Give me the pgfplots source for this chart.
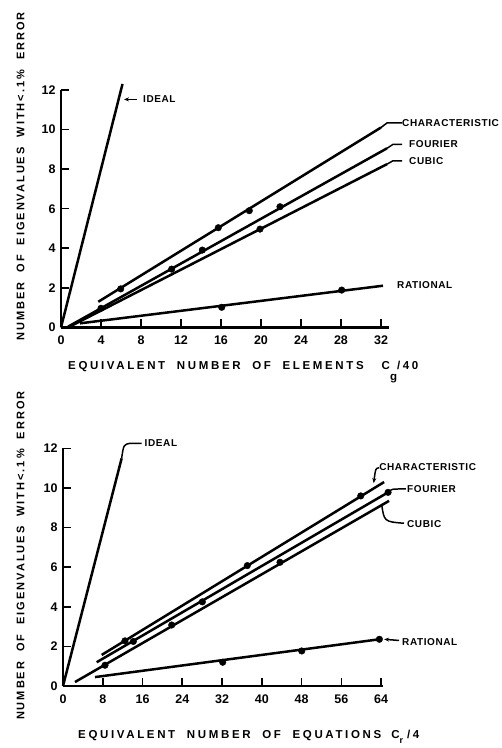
\documentclass[border=0pt]{standalone}
\usepackage{fontspec}
\setmainfont{Liberation Sans}
\newfontfamily\labfont{Liberation Sans}[LetterSpace=18, WordSpace=2.0]
\newfontfamily\xlabfont{Liberation Sans}[LetterSpace=23, WordSpace=2.0]
\newfontfamily\smallfont{Liberation Sans}[LetterSpace=6]
\usepackage{pgfplots}
\pgfplotsset{compat=1.18}
\usetikzlibrary{arrows.meta}

\pgfplotsset{
  eig/.style={
    scale only axis, axis lines=left, axis line style={-, line width=2.5pt},
    ymin=0, ymax=12, ytick={0,2,...,12},
    tick align=inside, major tick length=8pt,
    tick style={line width=1.6pt, black},
    clip=false,
    /pgf/number format/assume math mode=true,
    ticklabel style={font=\bfseries\fontsize{12.5}{13}\selectfont},
    xticklabel style={yshift=-5pt},
    yticklabel style={xshift=-2pt},
    height=237.6pt,
  },
  dline/.style={line width=2.5pt, black},
  dmark/.style={only marks, mark=*, mark size=3.3pt, black},
}
\tikzset{
  lead/.style={line width=1.5pt, black},
  lbl/.style={font=\smallfont\bfseries\fontsize{10}{11}\selectfont, anchor=west, inner sep=1pt},
}

\begin{document}
\begin{tikzpicture}
\useasboundingbox (0pt,0pt) rectangle (502pt,748pt);

% ---------------- top chart ----------------
\begin{axis}[eig, at={(61pt,420.5pt)}, anchor=south west, width=328pt,
  xmin=0, xmax=32.8, xtick={0,4,...,32}]
  % ideal
  \addplot[dline] coordinates {(0,0) (6.15,12.3)};
  % characteristic
  \addplot[dline] coordinates {(3.73,1.3) (32.0,10.1)};
  \addplot[dmark] coordinates {(5.97,1.95) (15.73,5.04) (18.83,5.9)};
  % fourier
  \addplot[dline] coordinates {(0.7,0.04) (32.6,9.05)};
  \addplot[dmark] coordinates {(4.0,0.97) (11.07,2.95) (14.13,3.91) (21.9,6.1)};
  % cubic
  \addplot[dline] coordinates {(0.7,0.0) (32.6,8.25)};
  \addplot[dmark] coordinates {(19.9,4.97)};
  % rational
  \addplot[dline] coordinates {(1.9,0.21) (32.2,2.11)};
  \addplot[dmark] coordinates {(16.07,1.02) (28.07,1.89)};
  % leaders and labels
  \draw[lead, -{Stealth[length=5pt,width=4pt]}] (axis cs:7.6,11.52) -- (axis cs:6.3,11.52);
  \node[lbl] at (axis cs:8.1,11.52) {IDEAL};
  \draw[lead] (axis cs:32.0,10.1) -- (axis cs:32.6,10.33) -- (axis cs:34.1,10.33);
  \node[lbl] at (axis cs:34.0,10.33) {CHARACTERISTIC};
  \draw[lead] (axis cs:32.6,9.05) -- (axis cs:33.2,9.25) -- (axis cs:34.1,9.25);
  \node[lbl] at (axis cs:34.7,9.25) {FOURIER};
  \draw[lead] (axis cs:32.6,8.25) -- (axis cs:33.2,8.42) -- (axis cs:34.1,8.42);
  \node[lbl] at (axis cs:34.7,8.42) {CUBIC};
  \node[lbl] at (axis cs:33.5,2.15) {RATIONAL};
\end{axis}

% ---------------- bottom chart ----------------
\begin{axis}[eig, at={(63pt,62pt)}, anchor=south west, width=320.1pt,
  xmin=0, xmax=64.4, xtick={0,8,...,64}]
  % ideal
  \addplot[dline] coordinates {(0,0) (11.8,11.5)};
  % characteristic
  \addplot[dline] coordinates {(7.79,1.57) (64.6,10.3)};
  \addplot[dmark] coordinates {(12.47,2.28) (37.08,6.08) (59.9,9.6)};
  % fourier
  \addplot[dline] coordinates {(6.78,1.2) (65.4,9.78)};
  \addplot[dmark] coordinates {(14.15,2.25) (28.03,4.25) (65.4,9.78)};
  % cubic
  \addplot[dline] coordinates {(2.41,0.2) (65.6,9.35)};
  \addplot[dmark] coordinates {(8.45,1.05) (21.87,3.08) (43.66,6.25)};
  % rational
  \addplot[dline] coordinates {(6.44,0.45) (63.65,2.36)};
  \addplot[dmark] coordinates {(32.13,1.2) (48.03,1.77) (63.65,2.36)};
  % leaders and labels
  \draw[lead] (axis cs:11.8,11.5) .. controls (axis cs:12.2,12.2) .. (axis cs:13.6,12.26) -- (axis cs:15.8,12.26);
  \node[lbl] at (axis cs:16.2,12.26) {IDEAL};
  \draw[lead, -{Stealth[length=5pt,width=4pt]}] (axis cs:63.6,11.02) .. controls (axis cs:62.9,11.0) .. (axis cs:62.5,10.25);
  \node[lbl] at (axis cs:63.4,11.05) {CHARACTERISTIC};
  \draw[lead] (axis cs:65.4,9.78) .. controls (axis cs:66.2,9.95) .. (axis cs:67.5,9.95) -- (axis cs:69.0,9.95);
  \node[lbl] at (axis cs:69.0,9.95) {FOURIER};
  \draw[lead] (axis cs:64.1,9.2) .. controls (axis cs:64.6,8.3) .. (axis cs:68.6,8.22);
  \node[lbl] at (axis cs:69.0,8.2) {CUBIC};
  \draw[lead, -{Stealth[length=5pt,width=4pt]}] (axis cs:67.6,2.3) -- (axis cs:64.6,2.36);
  \node[lbl] at (axis cs:68.0,2.2) {RATIONAL};
\end{axis}

% ---------------- axis titles ----------------
\node[rotate=90, font=\labfont\bfseries\fontsize{11}{12}\selectfont, inner sep=0pt]
  at (20.7pt,571.5pt) {NUMBER OF EIGENVALUES WITH<.1\% ERROR};
\node[rotate=90, font=\labfont\bfseries\fontsize{11}{12}\selectfont, inner sep=0pt]
  at (20.7pt,192.3pt) {NUMBER OF EIGENVALUES WITH<.1\% ERROR};
\node[anchor=base west, font=\xlabfont\bfseries\fontsize{11.5}{12}\selectfont, inner sep=0pt]
  at (68pt,378pt) {EQUIVALENT NUMBER OF ELEMENTS\hspace{18pt}C\raisebox{-11pt}{g}/40};
\node[anchor=base west, font=\xlabfont\bfseries\fontsize{11.5}{12}\selectfont, inner sep=0pt]
  at (78pt,9.7pt) {EQUIVALENT NUMBER OF EQUATIONS\hspace{10pt}C\raisebox{-5pt}{\fontsize{9}{9}\selectfont r}\hspace{4pt}/4};
\end{tikzpicture}
\end{document}
